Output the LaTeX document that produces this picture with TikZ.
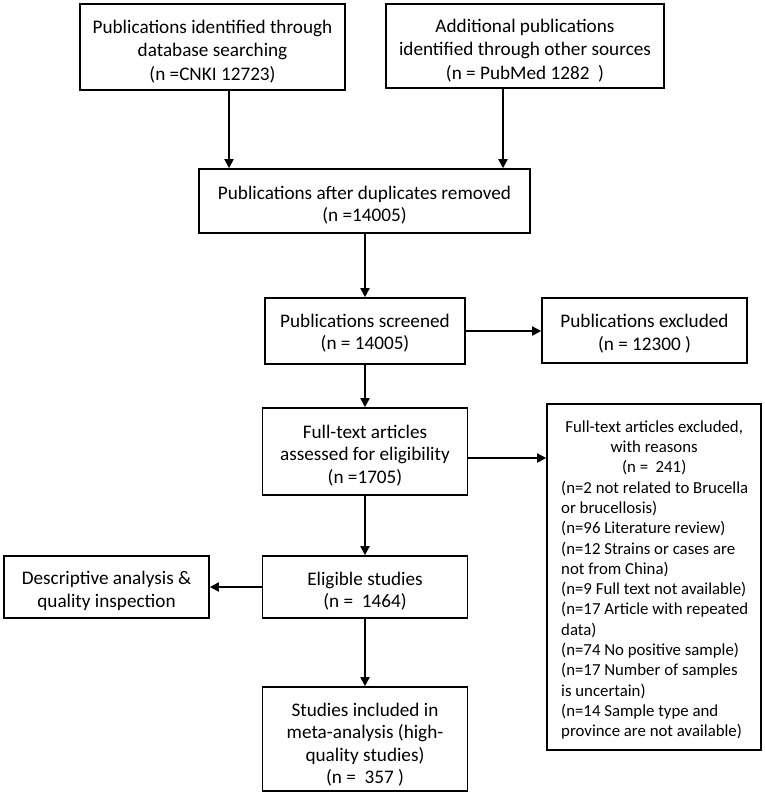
\documentclass[tikz,border=0pt]{standalone}
\usepackage{fontspec}
\setmainfont{Carlito}
\usetikzlibrary{arrows.meta,calc}
\begin{document}
\begin{tikzpicture}[x=1pt,y=1pt,
  box/.style={draw=black,line width=1.6pt,inner sep=0pt},
  txt/.style={inner sep=0pt,align=center,font=\fontsize{19.2}{22.5}\selectfont},
  toptxt/.style={txt,font=\fontsize{19.2}{23.5}\selectfont},
  arr/.style={line width=1.8pt,-{Triangle[length=9pt,width=9pt]}}]
\useasboundingbox (0,0) rectangle (765,-798);
\fill[white] (0,0) rectangle (765,-798);
% boxes: centre and size (px)
\node[box,minimum width=265pt,minimum height=86pt] (b1) at (212.5,-47) {};
\node[box,minimum width=278pt,minimum height=84pt] (b2) at (525,-46) {};
\node[box,minimum width=331pt,minimum height=64pt] (b3) at (364.5,-201) {};
\node[box,minimum width=200pt,minimum height=66pt] (b4) at (365,-331) {};
\node[box,minimum width=205pt,minimum height=65pt] (b5) at (644.5,-330.5) {};
\node[box,minimum width=205pt,minimum height=87pt] (b6) at (365,-451.5) {};
\node[box,minimum width=214pt,minimum height=346pt] (b7) at (654,-577) {};
\node[box,minimum width=205pt,minimum height=62pt] (b8) at (365,-587) {};
\node[box,minimum width=205pt,minimum height=62pt] (b9) at (106.5,-587) {};
\node[box,minimum width=205pt,minimum height=104pt] (b10) at (365,-739) {};
% texts
\node[toptxt] (t1) at ([yshift=-4.5pt]b1.center)
  {Publications identified through\\database searching\\(n =CNKI 12723)};
\node[toptxt] (t2) at ([yshift=-4.5pt]b2.center)
  {Additional publications\\identified through other sources\\(n = PubMed 1282~ )};
\node[txt] (t3) at ([yshift=-4pt]b3.center)
  {Publications after duplicates removed\\(n =14005)};
\node[txt] (t4) at ([yshift=-2pt]b4.center)
  {Publications screened\\(n = 14005)};
\node[txt] (t5) at ([yshift=-3pt]b5.center)
  {Publications excluded\\(n = 12300 )};
\node[txt] (t6) at ([yshift=-4pt]b6.center)
  {Full-text articles\\assessed for eligibility\\(n =1705)};
\node[txt] (t8) at ([yshift=-4pt]b8.center)
  {Eligible studies\\(n = ~1464)};
\node[txt] (t9) at ([yshift=-4pt]b9.center)
  {Descriptive analysis \&\\quality inspection};
\node[txt] (t10) at ([yshift=-5.5pt]b10.center)
  {Studies included in\\meta-analysis (high-\\quality studies)\\(n = ~357 )};
\node[inner sep=0pt,align=left,anchor=west,font=\fontsize{16.8}{20.3}\selectfont]
  (t7) at (561,-580)
  {\makebox[186pt][c]{Full-text articles excluded,}\\
   \makebox[186pt][c]{with reasons}\\
   \makebox[186pt][c]{(n = ~241)}\\
   (n=2 not related to Brucella\\
   or brucellosis)\\
   (n=96 Literature review)\\
   (n=12 Strains or cases are\\
   not from China)\\
   (n=9 Full text not available)\\
   (n=17 Article with repeated\\
   data)\\
   (n=74 No positive sample)\\
   (n=17 Number of samples\\
   is uncertain)\\
   (n=14 Sample type and\\
   province are not available)};
% connectors
\coordinate (xa) at (229,0);
\coordinate (xb) at (503,0);
\draw[arr] (b1.south -| xa) -- (b3.north -| xa);
\draw[arr] (b2.south -| xb) -- (b3.north -| xb);
\draw[arr] (b3.south -| b4.north) -- (b4.north);
\draw[arr] (b4.east) -- (b4.east -| b5.west);
\draw[arr] (b4.south) -- (b6.north -| b4.south);
\coordinate (ya) at (0,-458);
\draw[arr] (b6.east |- ya) -- (b7.west |- ya);
\draw[arr] (b6.south) -- (b8.north);
\draw[arr] (b8.west) -- (b9.east);
\draw[arr] (b8.south) -- (b10.north);
\end{tikzpicture}
\end{document}
